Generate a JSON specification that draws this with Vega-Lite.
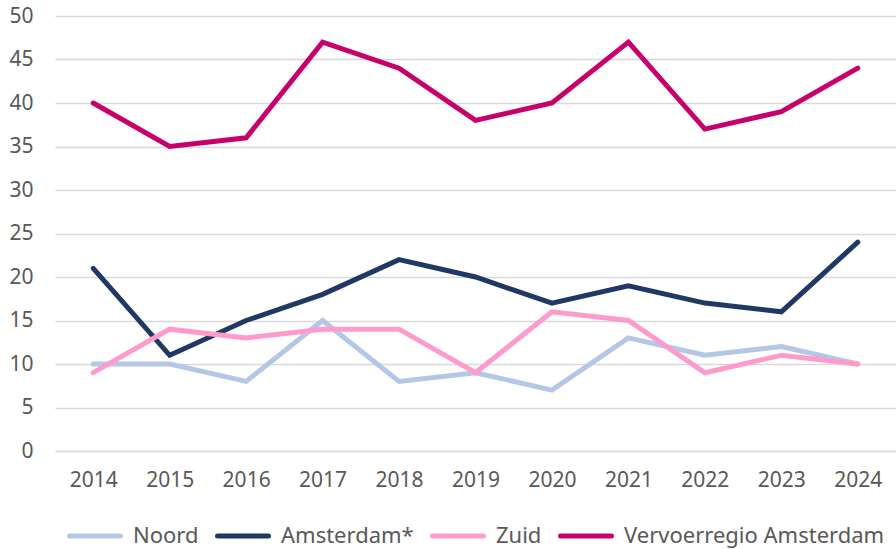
{
  "$schema": "https://vega.github.io/schema/vega-lite/v6.json",
  "width": 841,
  "height": 435,
  "autosize": {"type": "none"},
  "padding": {"left": 55, "top": 16, "right": 0, "bottom": 98},
  "background": "white",
  "config": {
    "view": {"stroke": null},
    "font": "Noto Sans",
    "legend": {"layout": {"bottom": {"anchor": "middle"}}}
  },
  "data": {
    "values": [
      {"jaar": "2014", "reeks": "Noord", "waarde": 10},
      {"jaar": "2015", "reeks": "Noord", "waarde": 10},
      {"jaar": "2016", "reeks": "Noord", "waarde": 8},
      {"jaar": "2017", "reeks": "Noord", "waarde": 15},
      {"jaar": "2018", "reeks": "Noord", "waarde": 8},
      {"jaar": "2019", "reeks": "Noord", "waarde": 9},
      {"jaar": "2020", "reeks": "Noord", "waarde": 7},
      {"jaar": "2021", "reeks": "Noord", "waarde": 13},
      {"jaar": "2022", "reeks": "Noord", "waarde": 11},
      {"jaar": "2023", "reeks": "Noord", "waarde": 12},
      {"jaar": "2024", "reeks": "Noord", "waarde": 10},
      {"jaar": "2014", "reeks": "Amsterdam*", "waarde": 21},
      {"jaar": "2015", "reeks": "Amsterdam*", "waarde": 11},
      {"jaar": "2016", "reeks": "Amsterdam*", "waarde": 15},
      {"jaar": "2017", "reeks": "Amsterdam*", "waarde": 18},
      {"jaar": "2018", "reeks": "Amsterdam*", "waarde": 22},
      {"jaar": "2019", "reeks": "Amsterdam*", "waarde": 20},
      {"jaar": "2020", "reeks": "Amsterdam*", "waarde": 17},
      {"jaar": "2021", "reeks": "Amsterdam*", "waarde": 19},
      {"jaar": "2022", "reeks": "Amsterdam*", "waarde": 17},
      {"jaar": "2023", "reeks": "Amsterdam*", "waarde": 16},
      {"jaar": "2024", "reeks": "Amsterdam*", "waarde": 24},
      {"jaar": "2014", "reeks": "Zuid", "waarde": 9},
      {"jaar": "2015", "reeks": "Zuid", "waarde": 14},
      {"jaar": "2016", "reeks": "Zuid", "waarde": 13},
      {"jaar": "2017", "reeks": "Zuid", "waarde": 14},
      {"jaar": "2018", "reeks": "Zuid", "waarde": 14},
      {"jaar": "2019", "reeks": "Zuid", "waarde": 9},
      {"jaar": "2020", "reeks": "Zuid", "waarde": 16},
      {"jaar": "2021", "reeks": "Zuid", "waarde": 15},
      {"jaar": "2022", "reeks": "Zuid", "waarde": 9},
      {"jaar": "2023", "reeks": "Zuid", "waarde": 11},
      {"jaar": "2024", "reeks": "Zuid", "waarde": 10},
      {"jaar": "2014", "reeks": "Vervoerregio Amsterdam", "waarde": 40},
      {"jaar": "2015", "reeks": "Vervoerregio Amsterdam", "waarde": 35},
      {"jaar": "2016", "reeks": "Vervoerregio Amsterdam", "waarde": 36},
      {"jaar": "2017", "reeks": "Vervoerregio Amsterdam", "waarde": 47},
      {"jaar": "2018", "reeks": "Vervoerregio Amsterdam", "waarde": 44},
      {"jaar": "2019", "reeks": "Vervoerregio Amsterdam", "waarde": 38},
      {"jaar": "2020", "reeks": "Vervoerregio Amsterdam", "waarde": 40},
      {"jaar": "2021", "reeks": "Vervoerregio Amsterdam", "waarde": 47},
      {"jaar": "2022", "reeks": "Vervoerregio Amsterdam", "waarde": 37},
      {"jaar": "2023", "reeks": "Vervoerregio Amsterdam", "waarde": 39},
      {"jaar": "2024", "reeks": "Vervoerregio Amsterdam", "waarde": 44}
    ]
  },
  "mark": {"type": "line", "strokeWidth": 5, "strokeJoin": "miter", "strokeCap": "round"},
  "encoding": {
    "x": {
      "field": "jaar",
      "type": "ordinal",
      "scale": {"type": "point", "padding": 0.5},
      "axis": {
        "title": null,
        "domain": false,
        "ticks": false,
        "grid": false,
        "labelAngle": 0,
        "labelFontSize": 21,
        "labelColor": "#595959",
        "labelPadding": 18
      }
    },
    "y": {
      "field": "waarde",
      "type": "quantitative",
      "scale": {"domain": [0, 50], "nice": false},
      "axis": {
        "title": null,
        "values": [0, 5, 10, 15, 20, 25, 30, 35, 40, 45, 50],
        "domain": false,
        "ticks": false,
        "grid": true,
        "gridColor": "#d9d9d9",
        "gridWidth": 1.5,
        "labelFontSize": 21,
        "labelColor": "#595959",
        "labelPadding": 22
      }
    },
    "color": {
      "field": "reeks",
      "type": "nominal",
      "sort": ["Noord", "Amsterdam*", "Zuid", "Vervoerregio Amsterdam"],
      "scale": {
        "domain": ["Noord", "Amsterdam*", "Zuid", "Vervoerregio Amsterdam"],
        "range": ["#b4c7e7", "#203864", "#ff9acc", "#c8006b"]
      },
      "legend": {
        "title": null,
        "orient": "bottom",
        "direction": "horizontal",
        "symbolType": "stroke",
        "symbolStrokeWidth": 5,
        "symbolSize": 2600,
        "labelFontSize": 22,
        "labelColor": "#595959",
        "labelLimit": 400,
        "labelOffset": 10,
        "columnPadding": 8,
        "offset": 18,
        "encode": {"symbols": {"update": {"strokeCap": {"value": "round"}}}}
      }
    }
  }
}
